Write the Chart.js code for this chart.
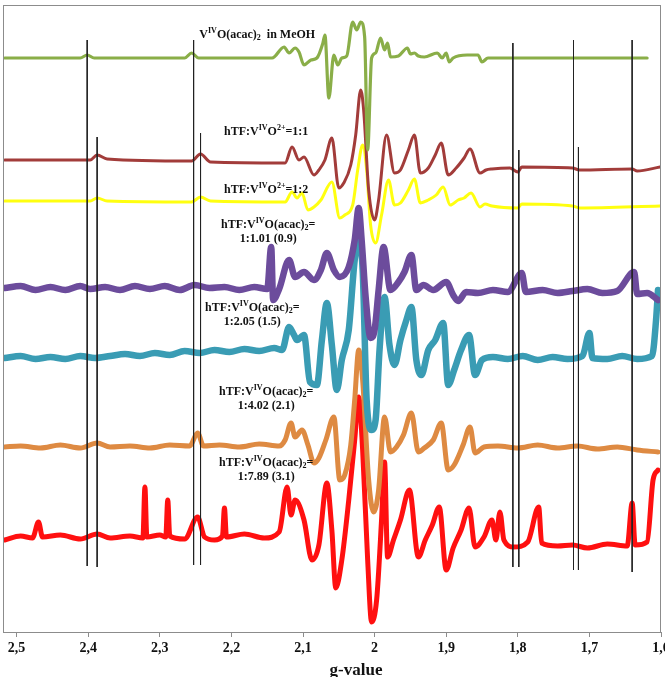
<!DOCTYPE html>
<html><head><meta charset="utf-8">
<script src="https://cdn.jsdelivr.net/npm/chart.js@4.4.0/dist/chart.umd.min.js"></script>
<style>html,body{margin:0;padding:0;background:#fff;overflow:hidden;width:665px;height:677px}
#wrap{position:relative;width:665px;height:690px}</style>
</head><body><div id="wrap"><canvas id="c" width="665" height="690"></canvas></div>
<script>
const gTicks = [2.5,2.4,2.3,2.2,2.1,2.0,1.9,1.8,1.7,1.6];
const axisTitle = 'g-value';

// Green: VIVO(acac)2 in MeOH
const gGreen = [2.5167,2.4111,2.4014,2.3917,2.2653,2.2556,2.2458,2.1431,2.1264,2.1194,2.1111,2.1056,2.0986,2.0889,2.0806,2.0722,2.0694,2.0639,2.0569,2.0514,2.0458,2.0389,2.0306,2.025,2.0194,2.0139,2.0097,2.0042,1.9986,1.9917,1.9861,1.9819,1.9778,1.9667,1.9542,1.95,1.9444,1.9389,1.9306,1.9125,1.9056,1.9,1.8958,1.8903,1.8708,1.8556,1.85,1.8417,1.6194];
const iGreen = [576,576,579,576,576,581,576,576,587,581,586,582,569,574,576,591,599,536,579,569,576,578,612,604,612,597,484,576,581,596,584,591,577,578,586,580,581,578,577,581,576,581,572,576,579,579,572,576,576];

// Dark red: hTF:VO2+ = 1:1
const gDarkRed = [2.5167,2.3972,2.3875,2.3736,2.2556,2.2431,2.2292,2.125,2.1153,2.1056,2.0986,2.0847,2.0778,2.0694,2.0597,2.05,2.0431,2.0333,2.0264,2.0194,2.0153,2.0083,2.0,1.9944,1.9833,1.9722,1.9639,1.9528,1.9444,1.9361,1.925,1.9153,1.9069,1.8972,1.8861,1.875,1.8667,1.8528,1.8444,1.8361,1.8111,1.8,1.7944,1.7236,1.7139,1.6403,1.6333,1.6014];
const iDarkRed = [474,474,479,475,473,480,472,471,487,474,477,459,464,474,496,446,451,469,499,544,524,444,414,434,499,461,464,484,499,461,466,479,491,459,466,476,485,461,464,465,466,462,467,466,464,465,463,467];

// Yellow: hTF:VO2+ = 1:2
const gYellow = [2.5167,2.3972,2.3875,2.3736,2.2556,2.2431,2.2292,2.125,2.1153,2.1083,2.1014,2.0931,2.0847,2.075,2.0597,2.0486,2.0417,2.0306,2.0236,2.0167,2.0111,2.0056,1.9986,1.9903,1.9806,1.9722,1.9639,1.9528,1.9444,1.9361,1.925,1.9139,1.9042,1.8944,1.8833,1.875,1.8653,1.8528,1.8458,1.8361,1.8,1.7944,1.7236,1.7139,1.6014];
const iYellow = [433,433,436,433,432,437,433,432,442,436,441,424,427,434,452,416,419,429,464,489,464,409,391,419,454,429,431,444,455,431,434,439,447,429,434,436,441,427,430,428,426,430,428,426,428];

// Purple: 1:1.01 (0.9)
const gPurple = [2.5167,2.4944,2.4736,2.4528,2.4319,2.4111,2.3972,2.3764,2.3556,2.3347,2.3139,2.2931,2.2722,2.2514,2.2306,2.2097,2.1889,2.1681,2.15,2.1444,2.1417,2.1333,2.1194,2.1111,2.0986,2.0847,2.075,2.0667,2.0569,2.0486,2.0361,2.0278,2.0222,2.0181,2.0125,2.0056,2.0,1.9944,1.9875,1.9778,1.9667,1.9583,1.9486,1.9417,1.9319,1.9181,1.9,1.8903,1.8833,1.8722,1.8556,1.8347,1.8139,1.7944,1.7889,1.7653,1.7444,1.7236,1.7028,1.6819,1.6611,1.6375,1.6333,1.6194,1.6042];
const iPurple = [346,348,344,347,344,348,345,347,344,348,345,348,344,349,346,347,344,347,345,387,334,345,374,357,362,354,364,381,364,357,367,394,426,394,337,296,304,344,387,344,352,362,379,344,349,344,352,339,333,342,341,344,342,361,342,344,341,343,345,341,343,362,340,341,334];

// Teal: 1:2.05 (1.5)
const gTeal = [2.5167,2.4944,2.4736,2.4528,2.4319,2.4111,2.3903,2.3694,2.3486,2.3278,2.3069,2.2861,2.2653,2.2444,2.2236,2.2028,2.1819,2.1611,2.1403,2.1292,2.1194,2.1125,2.1083,2.0986,2.0903,2.0806,2.0736,2.0667,2.0597,2.0528,2.0458,2.0361,2.0278,2.0222,2.0167,2.0111,2.0042,1.9986,1.9931,1.9861,1.9792,1.9722,1.9639,1.9556,1.9486,1.9417,1.9347,1.925,1.9153,1.9042,1.8972,1.8889,1.8792,1.8681,1.8597,1.85,1.8347,1.8139,1.7931,1.7722,1.7514,1.7306,1.7097,1.7,1.6958,1.675,1.6542,1.6333,1.6125,1.6069,1.6042];
const iTeal = [276,278,275,277,275,278,276,278,280,278,281,279,283,281,284,282,285,283,286,284,307,299,294,299,252,249,294,331,289,244,274,304,374,394,364,234,204,214,284,337,289,269,294,314,327,274,259,284,294,311,249,264,284,299,259,274,277,275,278,274,277,275,278,301,276,275,278,275,278,314,344];

// Orange: 1:4.02 (2.1)
const gOrange = [2.5167,2.4944,2.4667,2.4389,2.4111,2.3875,2.3694,2.3417,2.3139,2.2861,2.2583,2.2472,2.2389,2.2167,2.1889,2.1611,2.1333,2.125,2.1167,2.1111,2.1014,2.0931,2.0847,2.0778,2.0681,2.0569,2.0486,2.0417,2.0333,2.0278,2.0222,2.0167,2.0083,2.0014,1.9944,1.9861,1.9778,1.9694,1.9597,1.9486,1.9389,1.9306,1.9181,1.9069,1.8972,1.8889,1.8764,1.8667,1.8597,1.8472,1.8278,1.8,1.7722,1.7444,1.7167,1.6889,1.6611,1.6333,1.6042];
const iOrange = [187,188,186,189,186,191,187,188,186,189,188,201,188,189,187,190,188,194,211,197,204,189,171,176,194,217,154,159,189,234,284,254,154,122,144,217,182,187,199,221,182,186,194,211,164,169,189,207,181,187,188,186,189,186,188,185,187,184,182];

// Red: 1:7.89 (3.1)
const gRed = [2.5167,2.4944,2.4778,2.4694,2.4639,2.4389,2.4111,2.3875,2.3694,2.3417,2.3236,2.3208,2.3181,2.3,2.2917,2.2889,2.2861,2.2653,2.2472,2.2375,2.2236,2.2125,2.2097,2.2069,2.1819,2.1542,2.1333,2.1222,2.1167,2.1111,2.0986,2.0875,2.0778,2.0667,2.0597,2.0542,2.0458,2.0361,2.0278,2.0222,2.0167,2.0097,2.0042,1.9972,1.9903,1.9861,1.9819,1.9736,1.9639,1.9514,1.9389,1.9292,1.9194,1.9097,1.9,1.8903,1.8792,1.8681,1.8597,1.8472,1.8361,1.8306,1.825,1.8194,1.8056,1.7861,1.7708,1.7667,1.7444,1.7236,1.7028,1.675,1.6472,1.6403,1.6361,1.6194,1.6111,1.6042];
const iRed = [94,98,96,112,97,99,95,100,96,98,96,147,97,99,97,134,98,95,117,97,94,98,126,97,100,96,102,147,119,134,114,74,89,151,104,46,74,134,194,237,184,74,12,34,114,172,77,94,114,144,77,94,109,127,64,86,104,126,87,97,114,94,122,94,87,92,127,91,88,89,86,90,88,131,89,92,154,164];

// Thin black marker lines (g position, top, bottom intensity)
const markerG = [2.4014,2.2528,1.8069,1.7222,1.6403,2.3875,2.2431,1.7986,1.7153];
const markerTop = [594,594,591,594,594,497,501,484,487];
const markerBottom = [68,69,67,64,62,67,69,67,64];

// Labels: lines of [text, style] segments; anchor (g, intensity)
const labelLines = [
  [[['V','n'],['IV','sup'],['O(acac)','n'],['2','sub'],['  in MeOH','n']]],
  [[['hTF:V','n'],['IV','sup'],['O','n'],['2+','sup'],['=1:1','n']]],
  [[['hTF:V','n'],['IV','sup'],['O','n'],['2+','sup'],['=1:2','n']]],
  [[['hTF:V','n'],['IV','sup'],['O(acac)','n'],['2','sub'],['=','n']],[['1:1.01 (0.9)','n']]],
  [[['hTF:V','n'],['IV','sup'],['O(acac)','n'],['2','sub'],['=','n']],[['1:2.05 (1.5)','n']]],
  [[['hTF:V','n'],['IV','sup'],['O(acac)','n'],['2','sub'],['=','n']],[['1:4.02 (2.1)','n']]],
  [[['hTF:V','n'],['IV','sup'],['O(acac)','n'],['2','sub'],['=','n']],[['1:7.89 (3.1)','n']]]
];
const labelG = [2.1639,2.1514,2.1514,2.1486,2.1708,2.1514,2.1514];
const labelI = [599,502,444,409,326,242,171];

const seriesNames = ['VIVO(acac)2 in MeOH','hTF:VO2+=1:1','hTF:VO2+=1:2','1:1.01 (0.9)','1:2.05 (1.5)','1:4.02 (2.1)','1:7.89 (3.1)'];
const seriesG = [gGreen,gDarkRed,gYellow,gPurple,gTeal,gOrange,gRed];
const seriesI = [iGreen,iDarkRed,iYellow,iPurple,iTeal,iOrange,iRed];
const seriesColors = ['#8aae48','#a23c3a','#ffff10','#6c4c9c','#3a9cb4','#de8a42','#ff1010'];
const seriesWidths = [3.2,3,3,6.5,6.5,5,5];

const SERIF = "'Liberation Serif','Times New Roman',serif";

const zip = (gs, is) => gs.slice(0, Math.min(gs.length, is.length)).map((g,k)=>({x:g,y:is[k]}));

const datasets = [];
markerG.forEach((g,k)=>{
  datasets.push({label:'marker'+k, data:[{x:g,y:markerTop[k]},{x:g,y:markerBottom[k]}],
    showLine:true, borderColor:'#222', borderWidth:1, pointRadius:0, order:0});
});
seriesNames.forEach((n,k)=>{
  datasets.push({label:n, data:zip(seriesG[k],seriesI[k]), showLine:true,
    borderColor:seriesColors[k], borderWidth:seriesWidths[k], pointRadius:0,
    cubicInterpolationMode:'monotone', borderJoinStyle:'round', borderCapStyle:'round', order:1+k});
});

function drawRich(ctx, segs, cx, cy){
  const fontFor = s => s==='n' ? `bold 12px ${SERIF}` : `bold 8px ${SERIF}`;
  let w = 0;
  segs.forEach(([t,s])=>{ ctx.font = fontFor(s); w += ctx.measureText(t).width; });
  let x = cx - w/2;
  ctx.textBaseline = 'middle'; ctx.textAlign = 'left'; ctx.fillStyle = '#111';
  segs.forEach(([t,s])=>{
    ctx.font = fontFor(s);
    const dy = s==='sup' ? -4 : (s==='sub' ? 3 : 0);
    ctx.fillText(t, x, cy+dy);
    x += ctx.measureText(t).width;
  });
}

const annot = {
  id:'annot',
  afterDatasetsDraw(chart){
    const {ctx, scales:{x,y}} = chart;
    ctx.save();
    labelLines.forEach((lines,i)=>{
      const cx = x.getPixelForValue(labelG[i]);
      let cy = y.getPixelForValue(labelI[i]);
      lines.forEach(line=>{ drawRich(ctx, line, cx, cy); cy += 14; });
    });
    ctx.restore();
  },
  afterDraw(chart){
    const {ctx, chartArea:a} = chart;
    ctx.save();
    ctx.strokeStyle = '#8c8c8c'; ctx.lineWidth = 1;
    ctx.strokeRect(a.left+0.5, a.top+0.5, a.right-a.left-1, a.bottom-a.top);
    ctx.font = `bold 17px ${SERIF}`; ctx.fillStyle = '#111';
    ctx.textAlign = 'center'; ctx.textBaseline = 'middle';
    ctx.fillText(axisTitle, 356, 671);
    ctx.restore();
  }
};

new Chart(document.getElementById('c'), {
  type:'scatter',
  data:{datasets},
  options:{
    responsive:false, animation:false, devicePixelRatio:1,
    layout:{padding:{left:3,right:4,top:5,bottom:0}},
    plugins:{legend:{display:false}, tooltip:{enabled:false}},
    scales:{
      x:{type:'linear', reverse:true, min:1.6, max:2.519,
        afterBuildTicks(s){ s.ticks = gTicks.map(v=>({value:v})); },
        afterFit(s){ s.height = 58; s.paddingLeft = 0; s.paddingRight = 0; },
        grid:{drawOnChartArea:false, drawTicks:true, tickLength:5, color:'#8c8c8c'},
        border:{display:true, color:'#8c8c8c'},
        ticks:{font:{family:SERIF, size:14, weight:'bold'}, color:'#111', padding:3, maxRotation:0, autoSkip:false,
          callback:(v)=>{ const r = Math.round(v*10)/10; return r===2 ? '2' : String(r).replace('.',','); }}
      },
      y:{display:false, min:2, max:629}
    }
  },
  plugins:[annot]
});
</script></body></html>
